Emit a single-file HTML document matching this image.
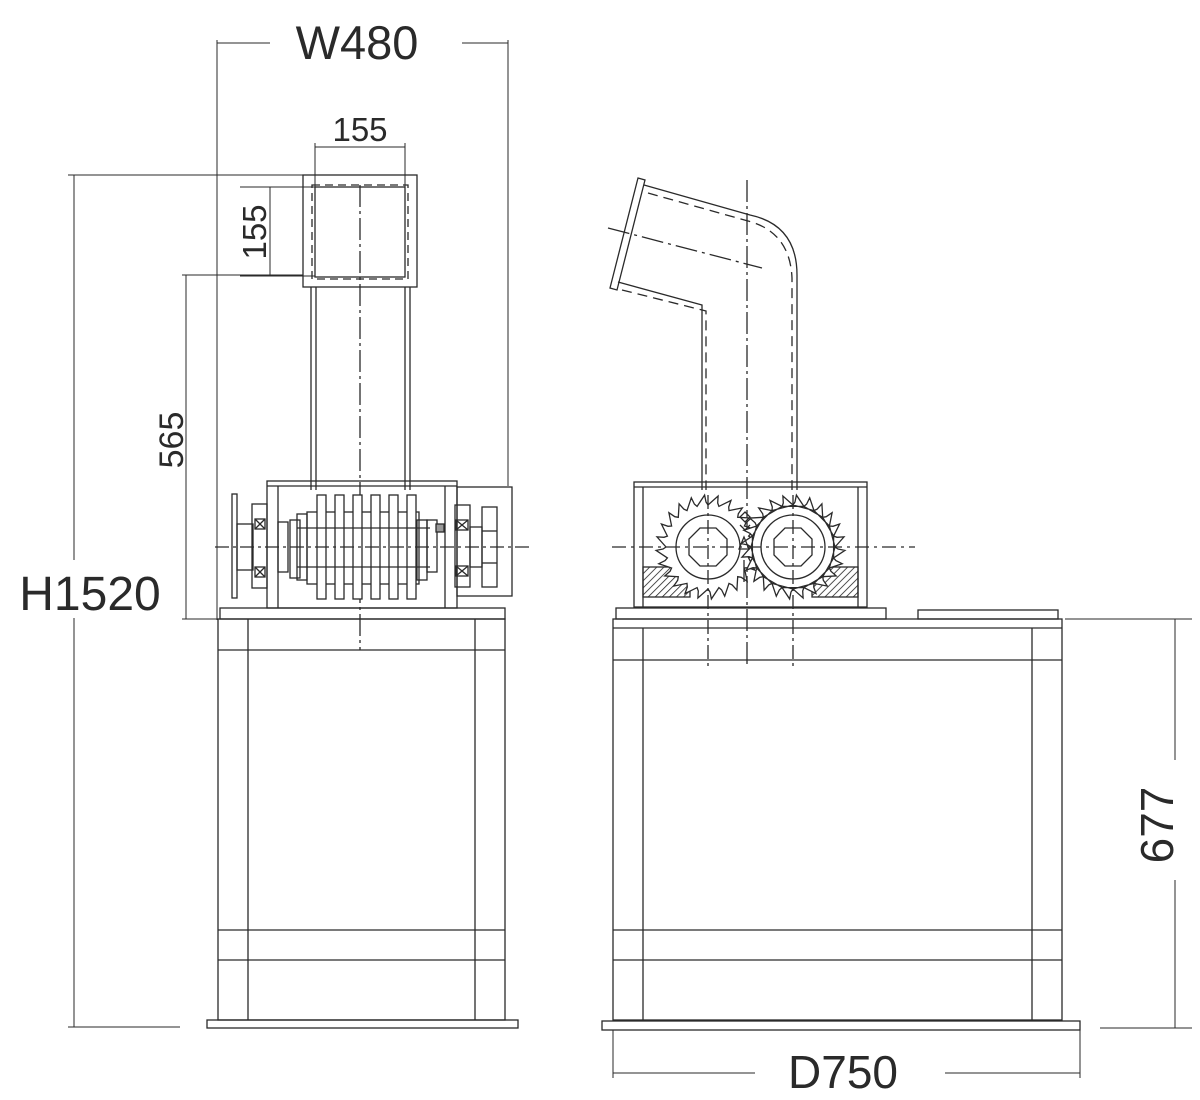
<!DOCTYPE html>
<html><head><style>body{margin:0;background:#fff}svg{display:block}</style></head>
<body>
<svg id="s" width="1200" height="1100" viewBox="0 0 1200 1100" xmlns="http://www.w3.org/2000/svg" font-family="Liberation Sans, sans-serif" fill="none" stroke="#2a2a2a" stroke-width="1.3">
<defs>
<pattern id="h" width="5" height="5" patternUnits="userSpaceOnUse" patternTransform="rotate(45)"><line x1="0" y1="0" x2="0" y2="5" stroke="#222" stroke-width="1.6"/></pattern>
</defs>
<g stroke-width="1">
<line x1="217" y1="43" x2="270" y2="43"/><line x1="462" y1="43" x2="508" y2="43"/>
<line x1="217" y1="40" x2="217" y2="620"/><line x1="508" y1="40" x2="508" y2="486"/>
<line x1="68" y1="175" x2="303" y2="175"/><line x1="68" y1="1027" x2="180" y2="1027"/>
<line x1="74" y1="175" x2="74" y2="560"/><line x1="74" y1="618" x2="74" y2="1027"/>
<line x1="315" y1="147" x2="405" y2="147"/><line x1="315" y1="143" x2="315" y2="187"/><line x1="405" y1="143" x2="405" y2="187"/>
<line x1="240" y1="187" x2="315" y2="187"/><line x1="240" y1="276" x2="315" y2="276"/>
<line x1="270" y1="187" x2="270" y2="276"/>
<line x1="182" y1="275" x2="303" y2="275"/><line x1="182" y1="619" x2="267" y2="619"/>
<line x1="186" y1="275" x2="186" y2="619"/>
</g>
<g fill="#2a2a2a" stroke="none">
<text x="357" y="59" font-size="47" text-anchor="middle">W480</text>
<text x="90" y="610" font-size="48" text-anchor="middle">H1520</text>
<text x="360" y="141" font-size="33" text-anchor="middle">155</text>
<text transform="translate(266,232) rotate(-90)" font-size="33" text-anchor="middle">155</text>
<text transform="translate(183,440) rotate(-90)" font-size="34" text-anchor="middle">565</text>
<text x="843" y="1088" font-size="46" text-anchor="middle">D750</text>
<text transform="translate(1173,825) rotate(-90)" font-size="46" text-anchor="middle">677</text>
</g>
<!-- Left machine -->
<rect x="303" y="175" width="114" height="112"/>
<rect x="315" y="187" width="90" height="90"/>
<rect x="312" y="185" width="96" height="94" stroke-dasharray="8,5"/>
<line x1="360" y1="185" x2="360" y2="650" stroke-dasharray="22,4,3,4"/>
<line x1="311" y1="287" x2="311" y2="490"/><line x1="316" y1="287" x2="316" y2="490"/>
<line x1="405" y1="287" x2="405" y2="490"/><line x1="410" y1="287" x2="410" y2="490"/>
<rect x="267" y="481" width="190" height="127"/>
<line x1="267" y1="486" x2="457" y2="486"/>
<line x1="278" y1="486" x2="278" y2="608"/><line x1="445" y1="486" x2="445" y2="608"/>
<rect x="457" y="487" width="55" height="109"/>
<rect x="482" y="507" width="15" height="80"/>
<line x1="482" y1="531" x2="497" y2="531"/><line x1="482" y1="563" x2="497" y2="563"/>
<g fill="#fff">
<rect x="307" y="512" width="112" height="72"/>
<rect x="317" y="495" width="9" height="104"/><rect x="335" y="495" width="9" height="104"/>
<rect x="353" y="495" width="9" height="104"/><rect x="371" y="495" width="9" height="104"/>
<rect x="389" y="495" width="9" height="104"/><rect x="407" y="495" width="9" height="104"/>
</g>
<line x1="297" y1="528" x2="430" y2="528"/><line x1="297" y1="567" x2="430" y2="567"/>
<rect x="232" y="494" width="5" height="104"/>
<rect x="237" y="524" width="16" height="46"/>
<rect x="252" y="504" width="15" height="84"/>
<rect x="255" y="519" width="10" height="10"/><path d="M255 519l10 10M265 519l-10 10"/>
<rect x="255" y="567" width="10" height="10"/><path d="M255 567l10 10M265 567l-10 10"/>
<rect x="278" y="522" width="10" height="50"/>
<rect x="290" y="520" width="10" height="58"/>
<rect x="297" y="514" width="10" height="66"/>
<rect x="417" y="520" width="10" height="60"/>
<rect x="427" y="520" width="10" height="52"/>
<rect x="436" y="524" width="8" height="8" fill="#999"/>
<rect x="455" y="505" width="15" height="82"/>
<rect x="456" y="520" width="12" height="10"/><path d="M456 520l12 10M468 520l-12 10"/>
<rect x="456" y="566" width="12" height="10"/><path d="M456 566l12 10M468 566l-12 10"/>
<rect x="470" y="527" width="12" height="40"/>
<line x1="215" y1="547" x2="530" y2="547" stroke-dasharray="14,4,3,4"/>
<rect x="220" y="608" width="285" height="11"/>
<rect x="218" y="619" width="287" height="401"/>
<line x1="248" y1="619" x2="248" y2="1020"/><line x1="475" y1="619" x2="475" y2="1020"/>
<line x1="218" y1="650" x2="505" y2="650"/>
<line x1="218" y1="930" x2="505" y2="930"/><line x1="218" y1="960" x2="505" y2="960"/>
<rect x="207" y="1020" width="311" height="8"/>
<!-- Right machine -->
<g stroke-width="1">
<line x1="613" y1="1073" x2="755" y2="1073"/><line x1="945" y1="1073" x2="1080" y2="1073"/>
<line x1="613" y1="1030" x2="613" y2="1078"/><line x1="1080" y1="1030" x2="1080" y2="1078"/>
<line x1="1065" y1="619" x2="1192" y2="619"/><line x1="1100" y1="1028" x2="1192" y2="1028"/>
<line x1="1175" y1="619" x2="1175" y2="760"/><line x1="1175" y1="880" x2="1175" y2="1028"/>
</g>
<path d="M638 178 L645 180 L617 290 L610 288 Z"/>
<path d="M644 185 L750 215 Q797 225 797 275 L797 490"/>
<path d="M618 282 L702 305 L702 490"/>
<path d="M648 193 L748 221 Q790 232 792 278 L792 490" stroke-dasharray="10,6"/>
<path d="M622 290 L706 311 L706 490" stroke-dasharray="10,6"/>
<line x1="608" y1="228" x2="762" y2="268" stroke-dasharray="22,5,3,5"/>
<line x1="747" y1="180" x2="747" y2="668" stroke-dasharray="22,4,3,4"/>
<rect x="634" y="482" width="233" height="125"/>
<line x1="634" y1="487" x2="867" y2="487"/>
<line x1="643" y1="487" x2="643" y2="607"/><line x1="858" y1="487" x2="858" y2="607"/>
<rect x="643" y="567" width="47" height="30" fill="url(#h)"/>
<rect x="812" y="567" width="46" height="30" fill="url(#h)"/>
<g id="gears" fill="#fff"></g>
<circle cx="708" cy="547" r="32"/><circle cx="793" cy="547" r="32"/>
<polygon points="700,528 716,528 727,539 727,555 716,566 700,566 689,555 689,539"/>
<polygon points="785,528 801,528 812,539 812,555 801,566 785,566 774,555 774,539"/>
<path d="M745 512 l5 5 -5 5 -5 -5z M750 525 l-5 5 -5 -5 M744 537 l5 12 -10 0z M744 560 l0 22"/>
<line x1="708" y1="495" x2="708" y2="668" stroke-dasharray="14,4,3,4"/>
<line x1="793" y1="495" x2="793" y2="668" stroke-dasharray="14,4,3,4"/>
<line x1="612" y1="547" x2="915" y2="547" stroke-dasharray="14,5,3,5"/>
<rect x="616" y="608" width="270" height="11"/>
<rect x="918" y="610" width="140" height="9"/>
<rect x="613" y="619" width="449" height="401"/>
<line x1="613" y1="628" x2="1062" y2="628"/>
<line x1="643" y1="628" x2="643" y2="1020"/><line x1="1032" y1="628" x2="1032" y2="1020"/>
<line x1="613" y1="660" x2="1062" y2="660"/>
<line x1="613" y1="930" x2="1062" y2="930"/><line x1="613" y1="960" x2="1062" y2="960"/>
<rect x="602" y="1021" width="478" height="9"/>
</svg>
<script>
(function(){
var g=document.getElementById('gears'),ns='http://www.w3.org/2000/svg';
function gear(cx,cy,dir){
 var n=24,ro=52,ri=42,d='';
 for(var i=0;i<n;i++){
  var a=i*2*Math.PI/n, b=a+dir*2*Math.PI/n*0.75, c=a+dir*2*Math.PI/n;
  var p=[[ri,a],[ro,b],[ri+3,b+dir*0.02],[ri,c]];
  for(var k=0;k<p.length;k++){
   var x=(cx+p[k][0]*Math.cos(p[k][1])).toFixed(1),y=(cy+p[k][0]*Math.sin(p[k][1])).toFixed(1);
   d+=(i==0&&k==0?'M':'L')+x+' '+y+' ';
  }
 }
 var e=document.createElementNS(ns,'path');e.setAttribute('d',d+'Z');g.appendChild(e);
 var c2=document.createElementNS(ns,'circle');c2.setAttribute('cx',cx);c2.setAttribute('cy',cy);c2.setAttribute('r',45);c2.setAttribute('fill','none');c2.setAttribute('stroke','none');g.appendChild(c2);
}
gear(708,547,1);gear(793,547,-1);
})();
</script>
</body></html>
